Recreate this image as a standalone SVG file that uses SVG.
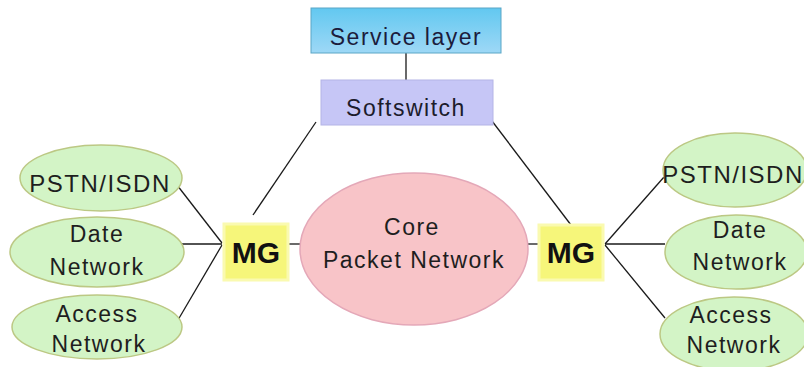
<svg xmlns="http://www.w3.org/2000/svg" width="804" height="367" viewBox="0 0 804 367">
<defs>
<style>
text{font-family:"Liberation Sans",Arial,sans-serif;font-size:23px;fill:#1e1e1e;text-anchor:middle;letter-spacing:1.5px}
.box{stroke-width:1}
.net{fill:#d3f4c6;stroke:#bcc884;stroke-width:1.5}
.mg{fill:#f6f67a;stroke:#fafab0;stroke-width:3}
.mgt{font-weight:bold;font-size:30px;fill:#111;letter-spacing:0}
.ln{stroke:#1a1a1a;stroke-width:1.3;fill:none}
</style>
<linearGradient id="svc" x1="0" y1="0" x2="0" y2="1"><stop offset="0" stop-color="#62c8f0"/><stop offset="1" stop-color="#9ed8f6"/></linearGradient>
</defs>
<rect width="804" height="367" fill="#fff"/>
<g id="connectors">
<line class="ln" x1="406" y1="53" x2="406" y2="80"/>
<line class="ln" x1="316" y1="122" x2="253" y2="215"/>
<line class="ln" x1="492" y1="121" x2="571" y2="225"/>
<line class="ln" x1="288" y1="244" x2="300" y2="244"/>
<line class="ln" x1="528" y1="244" x2="539" y2="244"/>
<line class="ln" x1="177" y1="185" x2="222" y2="243"/>
<line class="ln" x1="176" y1="244" x2="222" y2="244"/>
<line class="ln" x1="178" y1="320" x2="222" y2="245"/>
<line class="ln" x1="605" y1="244" x2="664" y2="177"/>
<line class="ln" x1="605" y1="244" x2="665" y2="244"/>
<line class="ln" x1="605" y1="245" x2="665" y2="318"/>
</g>
<g id="service-layer">
<rect class="box" x="311" y="8" width="190" height="45" fill="url(#svc)" stroke="#5aa6c6"/>
<text x="406" y="45" style="fill:#1c1c3c">Service layer</text>
</g>
<g id="softswitch">
<rect class="box" x="321" y="80" width="172" height="45" fill="#c6c6f6" stroke="#b4b4e6"/>
<text x="406" y="116" style="fill:#1c1c2c">Softswitch</text>
</g>
<g id="core">
<ellipse cx="414" cy="249" rx="114" ry="76" fill="#f8c4c8" stroke="#e4a8b8" stroke-width="1.5"/>
<text x="412" y="235">Core</text>
<text x="414" y="268">Packet Network</text>
</g>
<g id="mg-left">
<rect class="mg" x="224" y="224" width="64" height="56"/>
<text class="mgt" x="256" y="263">MG</text>
</g>
<g id="mg-right">
<rect class="mg" x="539" y="225" width="64" height="55"/>
<text class="mgt" x="571" y="263">MG</text>
</g>
<g id="pstn-left">
<ellipse class="net" cx="101" cy="178" rx="81" ry="33"/>
<text x="100" y="192" style="font-size:24px">PSTN/ISDN</text>
</g>
<g id="date-left">
<ellipse class="net" cx="97" cy="252" rx="87" ry="35"/>
<text x="97" y="242">Date</text>
<text x="97" y="275">Network</text>
</g>
<g id="access-left">
<ellipse class="net" cx="97" cy="327" rx="85" ry="32"/>
<text x="97" y="322">Access</text>
<text x="99" y="352">Network</text>
</g>
<g id="pstn-right">
<ellipse class="net" cx="735" cy="170" rx="72" ry="37"/>
<text x="733" y="183" style="font-size:24px">PSTN/ISDN</text>
</g>
<g id="date-right">
<ellipse class="net" cx="736" cy="252" rx="71" ry="37"/>
<text x="740" y="238">Date</text>
<text x="740" y="270">Network</text>
</g>
<g id="access-right">
<ellipse class="net" cx="734" cy="334" rx="74" ry="37"/>
<text x="731" y="323">Access</text>
<text x="734" y="353">Network</text>
</g>
</svg>
